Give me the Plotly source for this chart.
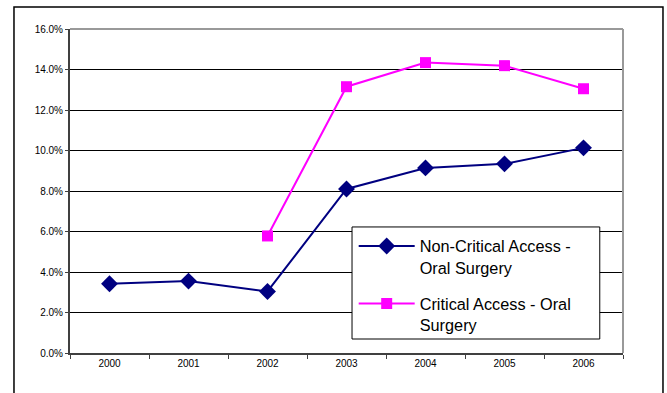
import plotly.graph_objects as go

years = ["2000", "2001", "2002", "2003", "2004", "2005", "2006"]
non_critical = [3.42, 3.55, 3.04, 8.10, 9.14, 9.34, 10.13]
critical = [None, None, 5.78, 13.15, 14.34, 14.19, 13.05]
y_ticks = [0, 2, 4, 6, 8, 10, 12, 14, 16]
y_tick_labels = [f"{v:.1f}%" for v in y_ticks]

fig = go.Figure()
fig.add_trace(go.Scatter(
    x=years, y=non_critical, mode="lines+markers",
    name="Non-Critical Access -<br>Oral Surgery", legendgroup="a",
    line=dict(color="#000080", width=2),
    marker=dict(symbol="diamond", size=13, color="#000080"),
))
fig.add_trace(go.Scatter(
    x=years, y=critical, mode="lines+markers",
    name="Critical Access - Oral<br>Surgery", legendgroup="b",
    line=dict(color="#FF00FF", width=2),
    marker=dict(symbol="square", size=11, color="#FF00FF"),
))

fig.update_layout(
    width=667, height=393,
    margin=dict(l=70, r=44, t=29, b=40),
    paper_bgcolor="white", plot_bgcolor="white",
    font=dict(family="Liberation Sans, Arial, sans-serif", color="black"),
    showlegend=True,
    legend=dict(
        x=0.513, y=0.383, xanchor="left", yanchor="top",
        bgcolor="rgba(0,0,0,0)", borderwidth=0,
        font=dict(size=16.3, family="Liberation Sans, Arial, sans-serif"),
        valign="top", tracegroupgap=12, itemwidth=56,
    ),
    xaxis=dict(
        type="category", range=[-0.5, 6.5], tickson="boundaries",
        ticks="outside", ticklen=4, tickcolor="#404040", tickwidth=1,
        showline=True, linecolor="#404040", linewidth=2,
        showgrid=False, tickfont=dict(size=10), zeroline=False,
    ),
    yaxis=dict(
        range=[0, 16], tickvals=y_ticks, ticktext=y_tick_labels,
        ticks="outside", ticklen=3, tickcolor="#404040",
        showline=True, linecolor="#404040", linewidth=2,
        showgrid=True, gridcolor="black", gridwidth=1,
        tickfont=dict(size=10), zeroline=False,
    ),
    shapes=[
        dict(type="rect", xref="paper", yref="paper", x0=-0.1013, x1=1.0723,
             y0=-0.3, y1=1.0679, line=dict(color="black", width=1.5),
             fillcolor="rgba(0,0,0,0)", layer="below"),
        dict(type="line", xref="paper", yref="paper", x0=0, x1=1, y0=1, y1=1,
             line=dict(color="#999999", width=2)),
        dict(type="line", xref="paper", yref="paper", x0=1, x1=1, y0=0, y1=1,
             line=dict(color="#999999", width=2)),
        dict(type="rect", xref="paper", yref="paper", x0=0.510, x1=0.958,
             y0=0.0432, y1=0.389, line=dict(color="black", width=1),
             fillcolor="white", layer="above"),
    ],
)

fig.write_html("out.html")
